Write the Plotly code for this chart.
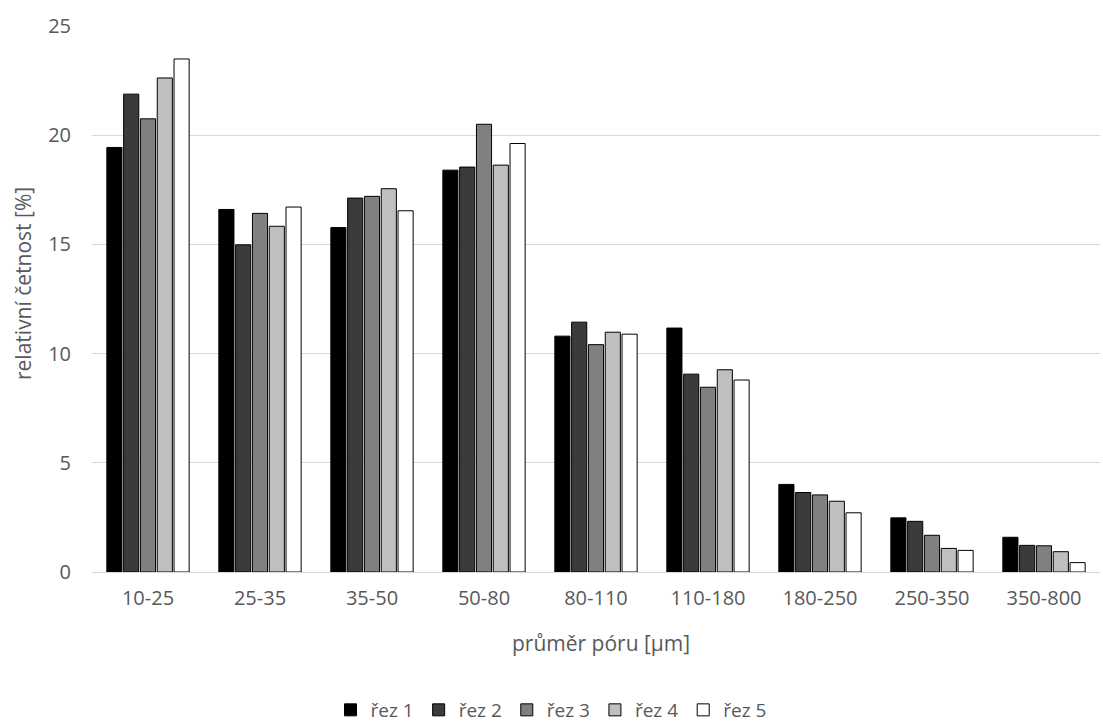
import plotly.graph_objects as go

categories = ["10-25", "25-35", "35-50", "50-80", "80-110", "110-180", "180-250", "250-350", "350-800"]
series_names = ["řez 1", "řez 2", "řez 3", "řez 4", "řez 5"]
rez1 = [19.44, 16.60, 15.77, 18.40, 10.80, 11.17, 4.01, 2.48, 1.59]
rez2 = [21.88, 14.98, 17.12, 18.54, 11.44, 9.06, 3.64, 2.32, 1.22]
rez3 = [20.75, 16.42, 17.20, 20.50, 10.41, 8.46, 3.53, 1.68, 1.20]
rez4 = [22.62, 15.83, 17.55, 18.63, 10.98, 9.26, 3.24, 1.08, 0.93]
rez5 = [23.49, 16.71, 16.54, 19.62, 10.89, 8.79, 2.71, 0.99, 0.43]
fills = ["#000000", "#3b3b3b", "#808080", "#bfbfbf", "#ffffff"]

fig = go.Figure()
for name, vals, col in zip(series_names, [rez1, rez2, rez3, rez4, rez5], fills):
    fig.add_trace(go.Bar(
        x=categories, y=vals, name=name,
        marker=dict(color=col, line=dict(color="#000000", width=1)),
    ))

W, H = 1103, 725
ML, MR, MT, MB = 92, 3, 26, 153
plot_h = H - MT - MB

def paper_y(px):
    # convert a pixel row (from top) into paper coordinates
    return (H - MB - px) / plot_h

def paper_x(px):
    return (px - ML) / (W - ML - MR)

font_family = "Open Sans, Liberation Sans, sans-serif"
text_col = "#595959"
fig.update_layout(
    width=W, height=H,
    margin=dict(l=ML, r=MR, t=MT, b=MB, autoexpand=False),
    paper_bgcolor="white", plot_bgcolor="white",
    barmode="group", bargap=0.25, bargroupgap=0.1,
    font=dict(family=font_family, size=20, color=text_col),
    showlegend=True,
    legend=dict(orientation="h", x=paper_x(551), xanchor="center", y=paper_y(710), yanchor="middle",
                font=dict(size=19, color=text_col), itemwidth=30, tracegroupgap=0,
                traceorder="normal"),
    xaxis=dict(showline=False, ticks="", ticklabelstandoff=12, automargin=False,
               tickfont=dict(size=20, color=text_col)),
    yaxis=dict(range=[0, 25], dtick=5, showgrid=True, gridcolor="#d9d9d9", gridwidth=1,
               zeroline=True, zerolinecolor="#d9d9d9", zerolinewidth=1, automargin=False,
               ticks="", ticklabelstandoff=20, tickfont=dict(size=20, color=text_col)),
    annotations=[
        dict(text="průměr póru [µm]", xref="paper", yref="paper",
             x=paper_x(601), y=paper_y(643), xanchor="center", yanchor="middle",
             showarrow=False, font=dict(size=21, color=text_col)),
        dict(text="relativní četnost [%]", xref="paper", yref="paper",
             x=paper_x(23), y=paper_y(284), xanchor="center", yanchor="middle",
             textangle=-90, showarrow=False, font=dict(size=21, color=text_col)),
    ],
)

fig.write_html("out.html")
